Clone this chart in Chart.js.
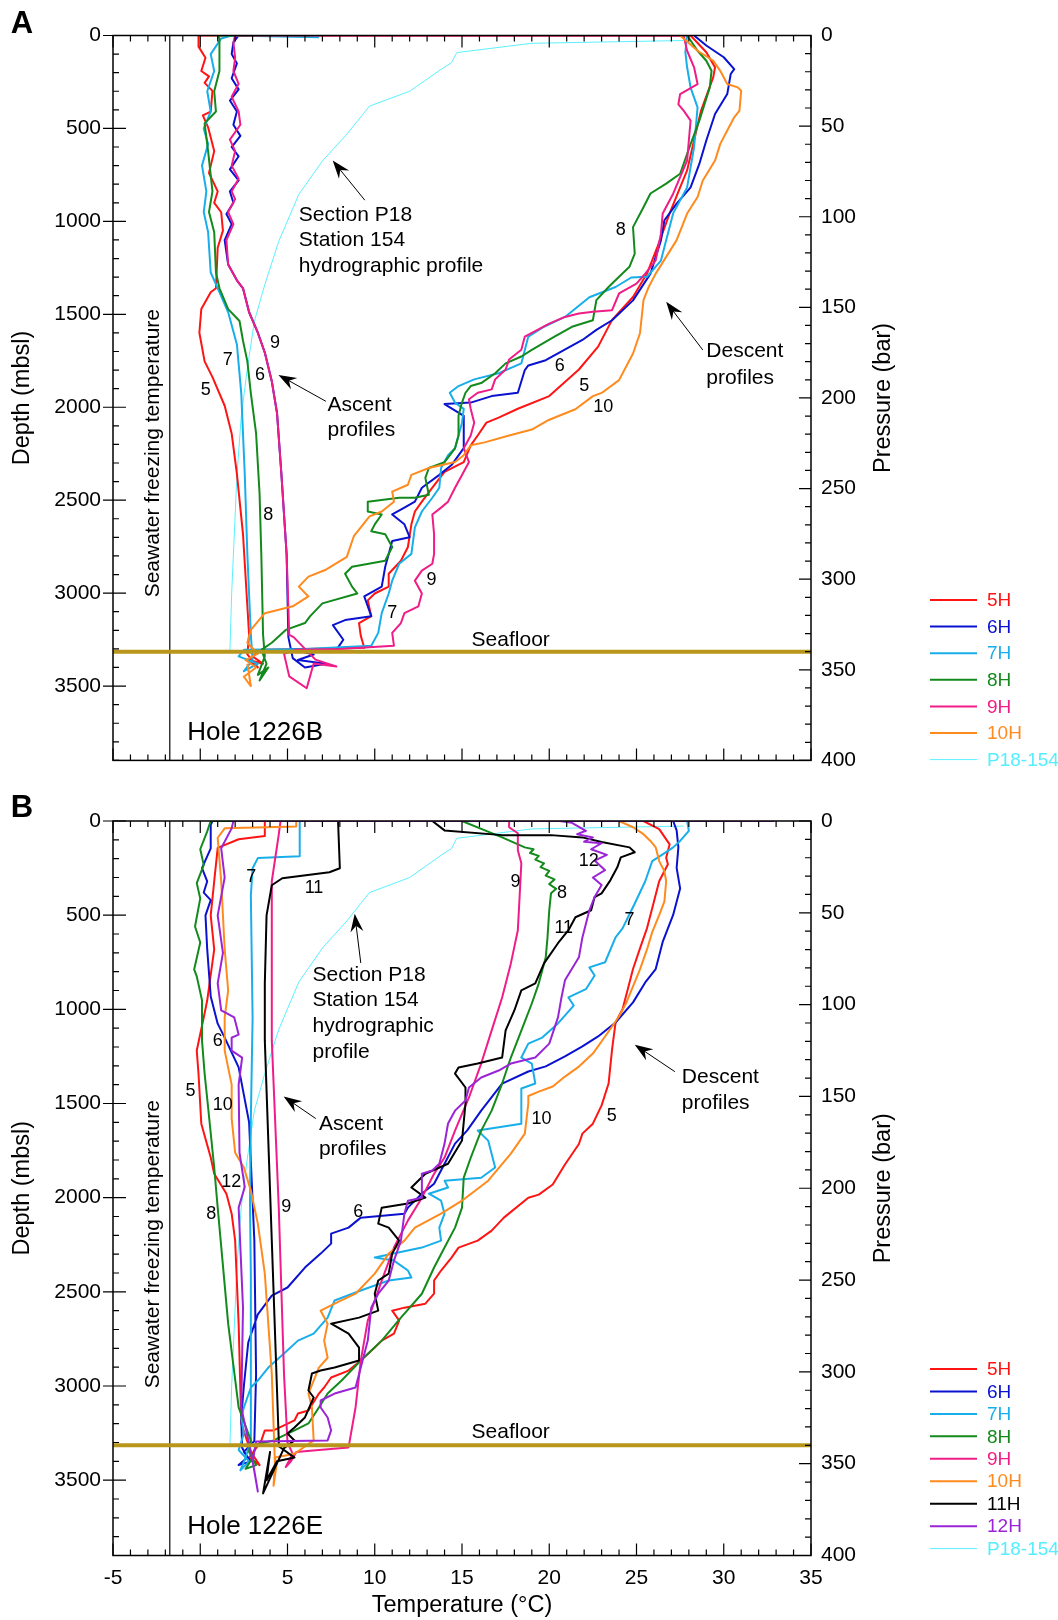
<!DOCTYPE html>
<html>
<head>
<meta charset="utf-8">
<title>Holes 1226B and 1226E temperature profiles</title>
<script src="https://cdn.jsdelivr.net/npm/chart.js@4.4.1/dist/chart.umd.min.js"></script>
<style>
  body { margin: 0; background: #fff; }
  .panel { position: absolute; left: 0; width: 1058px; }
  #panelA { top: 0; height: 785px; }
  #panelB { top: 785px; height: 835px; }
</style>
</head>
<body>
<div class="panel" id="panelA"><canvas id="chartA" width="1058" height="785"></canvas></div>
<div class="panel" id="panelB"><canvas id="chartB" width="1058" height="835"></canvas></div>
<script>
// temperature (°C), depth (mbsl) pairs, descent -> seafloor -> ascent -> deck

// ---- Hole 1226B ----
const a5H = [[28.1,0],[29.0,90],[29.5,171],[29.4,224],[28.7,404],[28.3,563],[27.9,726],[27.5,817],[26.9,957],[26.2,1137],[25.6,1281],[24.8,1407],[23.6,1530],[22.8,1674],[21.7,1797],[20.0,1940],[18.2,2008],[17.1,2056],[16.4,2083],[15.9,2152],[15.5,2205],[15.1,2295],[14.0,2348],[13.3,2433],[12.7,2508],[12.3,2561],[12.1,2630],[11.9,2752],[11.5,2826],[10.8,2896],[10.8,2965],[10.0,3002],[9.6,3039],[9.8,3124],[9.1,3161],[9.2,3230],[9.4,3294],[6.0,3300],[3.5,3305],
  [3.0,3340],[3.6,3380],[2.8,3360],[3.3,3400],[2.7,3330],
  [2.8,3225],[2.45,2683],[2.1,2359],[1.8,2141],[1.4,1992],[0.7,1838],[0.25,1753],[-0.05,1599],[0.06,1472],[0.6,1381],[0.9,1360],[1.0,1142],[1.3,1050],[1.2,951],[0.8,900],[1.0,839],[0.5,740],[0.8,622],[0.45,494],[0.15,430],[0.6,409],[0.7,298],[0.25,255],[0.5,220],[0.06,191],[0.3,120],[-0.1,60],[-0.1,16],[-0.1,0],[28.1,0]];
const a6H = [[28.3,0],[29.0,54],[30.0,117],[30.6,181],[30.4,207],[30.2,315],[29.5,422],[29.0,565],[28.6,691],[28.1,817],[27.3,905],[26.6,994],[26.4,1102],[25.8,1281],[24.8,1425],[23.6,1532],[22.7,1584],[21.9,1638],[20.5,1710],[19.8,1747],[18.8,1775],[18.6,1800],[18.2,1922],[16.7,1940],[15.5,1975],[14.0,1983],[15.1,2046],[15.1,2220],[14.4,2311],[13.7,2364],[12.7,2433],[12.3,2508],[11.7,2540],[11.0,2577],[11.7,2630],[12.0,2699],[11.0,2720],[10.8,2789],[10.6,2858],[10.4,2965],[9.4,3018],[9.8,3124],[8.3,3145],[7.6,3172],[8.2,3251],[7.8,3305],[5.2,3300],
  [6.5,3330],[5.6,3360],[7.2,3380],[6.0,3400],[5.3,3350],
  [5.05,3237],[4.95,2792],[4.65,2359],[4.4,2032],[4.1,1860],[3.7,1706],[3.3,1599],[2.8,1489],[2.45,1360],[2.1,1317],[1.6,1232],[1.4,1101],[1.8,1015],[1.5,960],[1.9,900],[1.7,839],[2.2,780],[1.7,720],[2.2,650],[1.8,600],[2.3,540],[1.9,480],[2.1,409],[1.7,350],[2.2,290],[1.8,230],[2.1,150],[1.8,100],[1.9,37],[2.2,0],[4.0,0]];
const a7H = [[27.9,0],[27.8,90],[27.9,171],[28.1,280],[28.5,387],[28.3,600],[27.9,817],[27.1,957],[26.7,1101],[26.4,1211],[25.6,1298],[24.7,1302],[23.8,1353],[22.3,1408],[20.9,1514],[19.7,1567],[18.8,1620],[18.4,1764],[17.1,1817],[15.7,1850],[14.8,1886],[14.3,1922],[14.6,1975],[15.1,2009],[15.0,2083],[14.6,2221],[14.2,2258],[13.8,2327],[13.7,2433],[13.3,2487],[12.7,2561],[12.3,2646],[12.1,2789],[11.4,2842],[11.0,2933],[10.8,3002],[10.4,3108],[10.2,3214],[9.8,3283],[6.0,3300],[2.5,3305],
  [2.2,3340],[3.3,3380],[2.5,3420],[3.0,3360],
  [2.9,3225],[2.7,2792],[2.55,2359],[2.35,1925],[2.1,1662],[1.6,1489],[1.1,1381],[0.6,1275],[0.45,1058],[0.2,950],[0.35,839],[0.1,700],[0.45,584],[0.2,500],[0.6,409],[0.4,300],[0.8,191],[0.6,100],[1.2,16],[1.8,0],[6.8,10]];
const a8H = [[27.9,0],[28.5,82],[29.0,136],[29.3,190],[29.2,279],[28.6,458],[28.1,584],[27.5,744],[26.7,797],[25.8,850],[25.4,924],[24.8,1031],[24.9,1174],[24.6,1244],[24.0,1298],[23.4,1353],[22.7,1424],[22.5,1532],[21.3,1567],[20.3,1620],[19.0,1691],[18.4,1727],[17.5,1764],[16.9,1817],[16.1,1870],[15.5,1886],[15.2,1922],[15.0,1975],[14.8,2046],[14.8,2152],[14.6,2221],[14.0,2295],[13.1,2327],[12.9,2380],[13.1,2471],[12.3,2487],[11.4,2487],[9.6,2508],[9.6,2561],[10.4,2577],[10.0,2630],[9.8,2667],[10.6,2683],[11.0,2752],[10.6,2826],[8.7,2858],[8.3,2896],[8.7,2965],[9.0,3002],[7.0,3055],[6.3,3124],[6.0,3161],[4.9,3198],[4.1,3267],[3.5,3305],
  [3.8,3380],[3.4,3470],[3.9,3400],[3.3,3440],[3.7,3340],
  [3.6,3225],[3.5,2792],[3.4,2467],[3.2,2141],[2.9,1925],[2.7,1753],[2.45,1642],[2.25,1536],[1.6,1472],[1.1,1360],[0.9,1275],[0.8,1058],[0.5,950],[0.7,839],[0.45,622],[0.25,473],[0.9,409],[0.8,300],[1.1,191],[1.1,16],[1.0,0],[6.3,0]];
const a9H = [[27.7,0],[27.9,82],[28.3,171],[28.5,261],[27.5,315],[27.4,370],[27.7,404],[28.1,458],[28.0,565],[27.9,673],[27.5,762],[27.1,851],[26.5,958],[26.4,1066],[26.1,1210],[25.5,1281],[25.0,1335],[24.0,1388],[23.6,1478],[22.5,1486],[21.7,1496],[20.9,1514],[20.0,1550],[18.6,1620],[18.4,1691],[17.7,1743],[17.5,1797],[16.9,1850],[16.7,1904],[15.9,1922],[15.4,1957],[15.5,2009],[15.7,2083],[15.5,2152],[15.1,2221],[15.4,2295],[15.0,2364],[14.6,2433],[14.2,2508],[13.8,2540],[13.3,2577],[13.4,2683],[13.4,2789],[13.3,2842],[12.7,2879],[12.3,2933],[12.7,3002],[12.5,3071],[11.7,3108],[11.5,3161],[11.0,3214],[11.1,3283],[8.0,3300],[5.5,3305],
  [4.8,3326],[5.1,3448],[6.1,3512],[6.5,3379],[7.8,3395],[6.6,3358],
  [5.35,3237],[5.1,3225],[4.95,2792],[4.65,2359],[4.4,2032],[4.1,1860],[3.7,1706],[3.3,1599],[2.8,1489],[2.45,1360],[2.1,1317],[1.6,1232],[1.5,1101],[1.9,1015],[1.6,950],[2.0,880],[1.8,839],[2.2,770],[1.8,700],[2.0,622],[1.7,560],[2.3,480],[2.2,409],[1.8,330],[2.2,260],[1.9,191],[2.0,120],[1.9,37],[2.0,0],[27.7,0]];
const a10H = [[27.5,0],[28.5,82],[29.4,136],[29.8,190],[30.2,261],[30.8,279],[31.0,297],[30.9,404],[30.6,440],[30.2,511],[29.8,583],[29.5,673],[28.8,780],[28.5,869],[27.9,958],[27.3,1101],[26.7,1191],[26.1,1281],[25.7,1353],[25.4,1424],[25.2,1602],[24.8,1711],[24.0,1854],[23.0,1923],[22.5,1940],[21.5,2011],[20.0,2067],[19.0,2120],[17.7,2152],[16.3,2189],[15.5,2205],[15.1,2258],[14.6,2295],[13.1,2327],[12.1,2364],[11.9,2417],[11.0,2454],[11.1,2508],[10.4,2561],[9.7,2587],[9.2,2646],[8.8,2694],[8.4,2805],[7.2,2874],[6.2,2911],[5.65,2965],[6.2,3018],[5.3,3071],[3.7,3108],[2.9,3198],[2.7,3267],[3.3,3326],
  [2.6,3360],[3.2,3400],[2.5,3450],[2.9,3500],[2.7,3380]];

// ---- Hole 1226E ----
const b5H = [[25.4,0],[26.3,43],[26.9,124],[26.7,195],[26.8,230],[26.3,320],[25.9,463],[25.6,570],[25.2,676],[24.8,786],[24.5,893],[24.2,1000],[23.8,1070],[23.6,1213],[23.4,1394],[23.0,1510],[22.5,1607],[21.9,1660],[21.7,1715],[20.9,1824],[20.2,1930],[19.4,1984],[18.8,2000],[17.4,2106],[16.7,2175],[15.9,2228],[14.8,2265],[14.4,2318],[13.8,2387],[13.4,2440],[13.4,2510],[12.9,2563],[11.7,2584],[11.0,2600],[11.4,2653],[11.1,2722],[10.4,2759],[10.0,2796],[9.2,2865],[8.5,2918],[7.5,2955],[7.1,3008],[6.8,3040],[6.2,3130],[5.6,3146],[5.4,3183],[4.2,3236],[3.7,3236],[3.5,3290],
  [3.2,3330],[2.8,3380],[3.4,3420],[2.9,3350],
  [2.35,3200],[2.2,2669],[2.0,2228],[1.8,2085],[1.5,1979],[0.8,1873],[0.6,1787],[0.06,1607],[-0.1,1341],[-0.2,1219],[0.2,1043],[0.4,952],[0.8,682],[0.6,501],[0.8,320],[1.0,143],[2.2,97],[3.7,80],[3.7,0],[25.4,0]];
const b6H = [[27.1,0],[27.3,50],[27.4,140],[27.3,249],[27.5,358],[27.1,499],[26.5,642],[26.1,786],[25.5,857],[24.8,963],[23.8,1070],[22.8,1144],[21.9,1197],[20.9,1250],[19.8,1303],[18.8,1330],[17.3,1394],[16.1,1538],[15.3,1643],[14.6,1713],[14.0,1820],[13.4,1926],[12.7,1979],[11.9,2053],[11.7,2085],[9.2,2106],[8.5,2159],[7.5,2191],[7.5,2244],[6.9,2297],[6.0,2371],[5.0,2477],[4.1,2520],[3.3,2620],[2.75,2769],[2.5,3000],[2.35,3166],[2.4,3328],
  [2.7,3380],[2.2,3420],[2.9,3400],[2.5,3350],
  [3.1,3292],[3.2,2936],[3.1,2228],[2.8,1600],[2.2,1308],[1.4,1150],[1.0,1076],[0.6,932],[0.4,682],[0.3,501],[0.6,420],[0.2,380],[0.4,320],[0.1,250],[0.6,145],[0.6,20],[0.7,0],[27.1,0]];
const b7H = [[27.9,0],[28.0,52],[27.5,106],[27.1,140],[26.5,177],[25.9,213],[25.5,320],[24.9,438],[24.2,570],[23.8,618],[23.2,750],[22.3,777],[22.6,820],[22.1,893],[21.1,937],[21.4,980],[20.5,1075],[19.6,1150],[18.8,1182],[18.4,1256],[19.0,1288],[19.2,1394],[18.4,1420],[18.4,1607],[15.9,1643],[16.5,1697],[16.9,1840],[16.1,1894],[14.0,1910],[14.2,1946],[13.1,1979],[13.8,2016],[14.0,2085],[13.7,2159],[13.8,2228],[12.7,2265],[10.0,2318],[11.1,2334],[11.9,2387],[12.1,2424],[10.8,2440],[9.2,2493],[7.7,2546],[7.3,2637],[6.5,2722],[5.6,2759],[4.8,2828],[3.9,2902],[3.3,2971],[2.9,3008],[2.5,3114],[2.35,3167],[2.5,3252],
  [2.2,3340],[2.8,3400],[2.3,3448],[2.6,3380],
  [2.9,3290],[2.9,2400],[2.85,2031],[2.9,1580],[3.0,1043],[2.9,395],[3.0,251],[3.3,197],[5.7,187],[5.7,0]];
const b8H = [[15.0,0],[17.3,87],[18.6,140],[19.1,150],[18.9,170],[19.4,185],[19.2,205],[19.7,225],[19.5,245],[20.0,265],[19.8,290],[20.3,310],[20.0,335],[20.4,360],[20.1,384],[20.0,474],[19.9,618],[19.8,724],[19.4,862],[19.0,969],[18.4,1113],[17.8,1256],[17.3,1394],[16.7,1538],[16.1,1644],[15.5,1788],[15.1,1894],[15.0,2053],[14.6,2159],[14.0,2265],[13.4,2371],[12.7,2510],[11.5,2637],[10.4,2759],[9.2,2865],[8.1,2971],[7.3,3040],[6.8,3114],[6.2,3199],[5.4,3236],[4.2,3289],[3.2,3310],
  [3.0,3380],[2.6,3440],[3.2,3420],[2.8,3350],
  [2.9,3289],[2.2,3114],[1.6,2669],[1.0,2053],[0.8,1840],[0.45,1520],[0.25,1341],[0.1,1165],[0.1,952],[-0.2,825],[-0.35,788],[0.0,645],[-0.3,560],[0.0,411],[-0.2,330],[0.2,233],[0.0,150],[0.4,55],[0.6,0],[4.0,0]];
const b9H = [[17.7,0],[17.7,33],[18.2,65],[18.2,155],[18.4,224],[18.3,404],[18.2,580],[17.8,756],[17.3,937],[16.7,1112],[16.1,1288],[15.4,1468],[14.6,1644],[14.0,1787],[13.4,1873],[12.7,2000],[11.9,2122],[11.1,2265],[10.4,2440],[9.6,2653],[9.2,2865],[8.9,3114],[8.5,3326],
  [6.8,3340],[5.5,3350],[5.2,3400],[4.9,3430],[5.3,3360],
  [5.0,3300],[4.8,2936],[4.5,2053],[4.1,1165],[4.1,862],[4.1,320],[4.5,71],[4.6,0],[17.7,0]];
const b10H = [[24.0,0],[24.8,33],[25.4,70],[25.8,106],[26.1,140],[26.3,213],[26.6,267],[26.7,320],[26.6,427],[26.3,500],[25.9,590],[25.6,682],[25.2,788],[24.8,878],[24.4,968],[24.0,1038],[23.2,1144],[22.5,1235],[21.7,1304],[20.9,1357],[20.2,1410],[19.4,1437],[18.8,1460],[18.8,1500],[18.6,1660],[17.8,1766],[16.5,1910],[15.0,2016],[13.8,2085],[12.3,2159],[11.7,2228],[10.8,2297],[10.0,2403],[8.9,2510],[7.7,2563],[6.9,2600],[7.3,2669],[7.1,2759],[7.3,2850],[6.8,2902],[6.5,2971],[6.2,3040],[6.4,3114],[6.5,3289],
  [5.4,3360],[4.3,3380],[4.2,3530],[4.4,3400],
  [4.3,3467],[4.1,2936],[3.7,2403],[3.3,2138],[2.9,1963],[2.5,1840],[2.0,1761],[1.8,1580],[1.8,1400],[1.4,1219],[1.4,1043],[1.6,900],[1.4,682],[1.2,320],[1.0,89],[1.4,39],[5.5,29],[5.5,0],[24.0,0]];
const b11H = [[13.3,0],[14.0,50],[17.3,75],[20.1,75],[21.9,87],[23.0,112],[24.6,140],[24.9,166],[24.1,193],[23.9,246],[23.5,315],[23.0,384],[22.6,404],[22.4,474],[21.5,511],[21.1,580],[20.5,649],[19.7,756],[19.2,862],[18.4,899],[18.0,1006],[17.5,1112],[17.3,1256],[15.9,1288],[14.8,1309],[14.6,1341],[15.2,1415],[15.2,1500],[15.0,1697],[14.2,1820],[12.9,1873],[12.1,1946],[12.9,2000],[11.9,2031],[10.4,2053],[10.2,2138],[10.8,2159],[11.4,2228],[11.0,2297],[10.8,2403],[10.2,2440],[10.0,2510],[10.2,2600],[9.1,2637],[7.5,2669],[8.5,2722],[9.1,2796],[9.1,2865],[7.7,2902],[6.9,2918],[6.4,2934],[6.2,3024],[6.5,3061],[6.0,3167],[5.4,3220],[5.0,3252],[5.4,3289],
  [4.8,3330],[3.6,3570],[4.0,3350],[3.8,3500],[4.4,3400],[5.4,3380],[4.5,3320],
  [4.5,3289],[4.1,2228],[3.7,1165],[3.7,862],[3.8,501],[4.1,341],[4.7,304],[7.4,272],[8.0,251],[7.9,7],[7.9,0],[13.3,0]];
const b12H = [[20.6,0],[21.3,10],[22.1,52],[21.6,70],[22.5,87],[22.0,110],[23.0,118],[22.4,150],[23.3,180],[22.6,210],[23.2,261],[22.5,300],[23.0,340],[22.6,404],[22.3,474],[21.9,618],[21.7,724],[20.9,846],[20.7,937],[20.5,1043],[20.0,1182],[19.2,1256],[17.8,1288],[17.1,1325],[16.1,1362],[15.4,1415],[15.2,1484],[14.6,1538],[14.2,1606],[14.0,1713],[13.7,1820],[13.3,1856],[12.7,1873],[12.7,2000],[11.9,2016],[11.7,2085],[11.5,2228],[11.1,2334],[10.8,2440],[10.2,2510],[9.8,2584],[9.6,2759],[9.2,2902],[8.9,3008],[7.7,3040],[6.9,3077],[6.9,3114],[7.3,3167],[7.5,3236],[7.3,3289],[3.2,3295],
  [3.0,3400],[3.3,3560],[3.1,3450],[2.9,3350],
  [2.35,3114],[2.45,2584],[2.2,2053],[2.55,1943],[2.25,1761],[2.2,1400],[2.4,1256],[1.8,1219],[1.8,1150],[2.2,1134],[1.95,1043],[1.2,1006],[1.0,862],[1.3,700],[1.0,501],[1.4,300],[1.2,145],[1.8,39],[1.9,0],[32.9,0]];

// Section P18 station 154 hydrographic profile (same in both panels)
const p18 = [[27.7,27],[19.0,42],[14.7,92],[14.4,146],[13.8,182],[12.0,300],[9.7,380],[8.4,531],[7.0,675],[5.65,855],[4.5,1107],[3.7,1340],[3.1,1538],[2.7,1790],[2.35,2049],[2.1,2370],[1.8,3002],[1.7,3315]];

const seafloorDepth = 3315;
const freezingTemp = -1.75;

// tick labels
const tempTicks = [-5, 0, 5, 10, 15, 20, 25, 30, 35];
const depthTicks = [0, 500, 1000, 1500, 2000, 2500, 3000, 3500];
const pressureTicks = [0, 50, 100, 150, 200, 250, 300, 350, 400];

const labelsA = ['5H', '6H', '7H', '8H', '9H', '10H'];
const seriesA = [a5H, a6H, a7H, a8H, a9H, a10H];
const labelsB = ['5H', '6H', '7H', '8H', '9H', '10H', '11H', '12H'];
const seriesB = [b5H, b6H, b7H, b8H, b9H, b10H, b11H, b12H];

const COLORS = {
  '5H': '#ff1414', '6H': '#0a12d0', '7H': '#18aeea', '8H': '#138a1c', '9H': '#f01c88',
  '10H': '#ff8a1e', '11H': '#000000', '12H': '#9a24d6', 'P18-154': '#5cf0ff'
};
const FONT = "'Liberation Sans', Arial, Helvetica, sans-serif";

// text and arrows, placed in data units (°C, mbsl)
const notesA = [
  {t: 5.65, d: 967, text: 'Section P18'}, {t: 5.65, d: 1104, text: 'Station 154'}, {t: 5.65, d: 1242, text: 'hydrographic profile'},
  {t: 7.29, d: 1991, text: 'Ascent'}, {t: 7.29, d: 2125, text: 'profiles'},
  {t: 29.0, d: 1700, text: 'Descent'}, {t: 29.0, d: 1844, text: 'profiles'},
  {t: 15.55, d: 3256, text: 'Seafloor'},
  {t: -0.75, d: 3751, text: 'Hole 1226B', size: 26}
];
const tagsA = [
  ['9', 4.29, 1655], ['7', 1.58, 1745], ['6', 3.42, 1826], ['5', 0.32, 1905], ['8', 3.9, 2578],
  ['9', 13.25, 2928], ['7', 11.0, 3108], ['8', 24.1, 1047], ['6', 20.6, 1778], ['5', 22.0, 1886], ['10', 23.1, 1998]
];
const arrowsA = [[9.43, 886, 7.59, 673], [7.2, 1968, 4.48, 1826], [28.8, 1692, 26.7, 1433]];

const notesB = [
  {t: 6.43, d: 817, text: 'Section P18'}, {t: 6.43, d: 951, text: 'Station 154'}, {t: 6.43, d: 1091, text: 'hydrographic'}, {t: 6.43, d: 1229, text: 'profile'},
  {t: 6.8, d: 1611, text: 'Ascent'}, {t: 6.8, d: 1745, text: 'profiles'},
  {t: 27.6, d: 1358, text: 'Descent'}, {t: 27.6, d: 1498, text: 'profiles'},
  {t: 15.55, d: 3247, text: 'Seafloor'},
  {t: -0.75, d: 3750, text: 'Hole 1226E', size: 26}
];
const tagsB = [
  ['7', 2.93, 295], ['11', 6.52, 355], ['9', 18.07, 322], ['8', 20.73, 383], ['12', 22.27, 213], ['11', 20.83, 570],
  ['7', 24.6, 526], ['6', 1.0, 1167], ['5', -0.56, 1432], ['10', 1.29, 1508], ['10', 19.56, 1582], ['5', 23.58, 1564],
  ['12', 1.78, 1918], ['8', 0.63, 2086], ['9', 4.93, 2051], ['6', 9.05, 2077]
];
const arrowsB = [[9.2, 754, 8.85, 493], [6.62, 1580, 4.78, 1463], [27.2, 1331, 24.9, 1188]];

function pts(arr) {
  return arr.map(p => ({x: p[0], y: p[1]}));
}

function fixedTicks(values) {
  return s => { s.ticks = values.map(v => ({value: v})); };
}

function buildDatasets(labels, series) {
  const ds = [];
  ds.push({label: 'seafloor', data: pts([[-5, seafloorDepth], [35.1, seafloorDepth]]), borderColor: '#b8961b', borderWidth: 4, order: 0});
  series.forEach((s, i) => {
    ds.push({label: labels[i], data: pts(s), borderColor: COLORS[labels[i]], borderWidth: 2, order: 100 - i, legend: true});
  });
  ds.push({label: 'P18-154', data: pts(p18), borderColor: COLORS['P18-154'], borderWidth: 1, order: 200, legend: true});
  ds.push({label: 'freezing', data: pts([[freezingTemp, 0], [freezingTemp, 3900]]), borderColor: '#333', borderWidth: 1, order: 300});
  ds.forEach(d => {
    d.showLine = true; d.pointRadius = 0; d.pointHitRadius = 0;
    d.borderJoinStyle = 'round'; d.fill = false;
  });
  return ds;
}

function drawArrow(ctx, x1, y1, x2, y2) {
  const a = Math.atan2(y2 - y1, x2 - x1), c = Math.cos(a), s = Math.sin(a);
  ctx.lineWidth = 1;
  ctx.beginPath();
  ctx.moveTo(x1, y1);
  ctx.lineTo(x2 - 10 * c, y2 - 10 * s);
  ctx.stroke();
  ctx.beginPath();
  ctx.moveTo(x2, y2);
  ctx.lineTo(x2 - 18 * c + 6.5 * s, y2 - 18 * s - 6.5 * c);
  ctx.lineTo(x2 - 12 * c, y2 - 12 * s);
  ctx.lineTo(x2 - 18 * c - 6.5 * s, y2 - 18 * s + 6.5 * c);
  ctx.closePath();
  ctx.fill();
}

const decor = {
  id: 'decor',
  afterDatasetsDraw(chart, args, o) {
    const {ctx, chartArea: a, scales} = chart;
    const sx = scales.x, sy = scales.y, sp = scales.y2;
    ctx.save();
    ctx.strokeStyle = '#000';
    ctx.fillStyle = '#000';

    // frame and inward ticks
    ctx.lineWidth = 1.5;
    ctx.strokeRect(a.left, a.top, a.right - a.left, a.bottom - a.top);
    ctx.lineWidth = 1.2;
    ctx.beginPath();
    for (let t = -5; t <= 35; t++) {
      const px = sx.getPixelForValue(t), len = t % 5 === 0 ? 12 : 6;
      ctx.moveTo(px, a.top); ctx.lineTo(px, a.top + len);
      ctx.moveTo(px, a.bottom); ctx.lineTo(px, a.bottom - len);
    }
    for (let d = 0; d <= 3900; d += 100) {
      const py = sy.getPixelForValue(d);
      if (d % 500 === 0) { ctx.moveTo(a.left - 10, py); ctx.lineTo(a.left + 13, py); }
      else { ctx.moveTo(a.left, py); ctx.lineTo(a.left + 6, py); }
    }
    for (let b = 0; b <= 400; b += 10) {
      const py = sp.getPixelForValue(b), len = b % 50 === 0 ? 12 : 6;
      ctx.moveTo(a.right, py); ctx.lineTo(a.right - len, py);
    }
    ctx.stroke();

    // notes, curve tags, arrows
    ctx.textBaseline = 'middle';
    ctx.textAlign = 'left';
    o.notes.forEach(n => {
      ctx.font = (n.size || 21) + 'px ' + FONT;
      ctx.fillText(n.text, sx.getPixelForValue(n.t), sy.getPixelForValue(n.d));
    });
    ctx.textAlign = 'center';
    ctx.font = '18px ' + FONT;
    o.tags.forEach(g => ctx.fillText(g[0], sx.getPixelForValue(g[1]), sy.getPixelForValue(g[2])));
    o.arrows.forEach(r => drawArrow(ctx, sx.getPixelForValue(r[0]), sy.getPixelForValue(r[1]),
      sx.getPixelForValue(r[2]), sy.getPixelForValue(r[3])));

    // freezing temperature label, rotated
    ctx.save();
    ctx.translate(sx.getPixelForValue(-2.71), sy.getPixelForValue(2247));
    ctx.rotate(-Math.PI / 2);
    ctx.font = '21px ' + FONT;
    ctx.fillText('Seawater freezing temperature', 0, 0);
    ctx.restore();

    // right axis title reads bottom to top
    ctx.save();
    ctx.translate(884, (a.top + a.bottom) / 2);
    ctx.rotate(-Math.PI / 2);
    ctx.font = '23.5px ' + FONT;
    ctx.fillText('Pressure (bar)', 0, 0);
    ctx.restore();

    // panel letter
    ctx.font = 'bold 31px ' + FONT;
    ctx.fillText(o.letter, 22, o.letterY);

    // legend
    ctx.textAlign = 'left';
    ctx.font = '19px ' + FONT;
    chart.data.datasets.filter(d => d.legend).forEach((d, i) => {
      const y = o.legendTop + i * o.legendStep;
      ctx.strokeStyle = d.borderColor;
      ctx.lineWidth = d.borderWidth;
      ctx.beginPath(); ctx.moveTo(930, y); ctx.lineTo(977, y); ctx.stroke();
      ctx.fillStyle = d.label === 'P18-154' ? '#55eeff' : d.borderColor;
      ctx.fillText(d.label, 987, y + 1);
    });
    ctx.restore();
  }
};

function makeChart(id, labels, series, cfg) {
  const tickFont = {family: FONT, size: 21};
  return new Chart(document.getElementById(id), {
    type: 'scatter',
    data: {datasets: buildDatasets(labels, series)},
    plugins: [decor],
    options: {
      responsive: false,
      animation: false,
      devicePixelRatio: 1,
      events: [],
      layout: {padding: {top: cfg.top, left: 0, right: 0, bottom: 0}},
      plugins: {
        legend: {display: false},
        tooltip: {enabled: false},
        decor: cfg.decor
      },
      scales: {
        x: {
          type: 'linear', position: 'bottom', min: -5, max: 35,
          grid: {display: false, drawTicks: false},
          border: {display: false},
          afterBuildTicks: fixedTicks(tempTicks),
          ticks: {display: cfg.showX, padding: 10, color: '#000', font: tickFont, callback: v => String(v)},
          title: {display: cfg.showX, text: 'Temperature (°C)', color: '#000', padding: {top: 0, bottom: 0}, font: {family: FONT, size: 23.5}},
          afterFit: s => { s.height = cfg.xHeight; }
        },
        y: {
          type: 'linear', position: 'left', min: 0, max: 3900, reverse: true,
          grid: {display: false, drawTicks: false},
          border: {display: false},
          afterBuildTicks: fixedTicks(depthTicks),
          ticks: {padding: 12, color: '#000', font: tickFont, callback: v => String(v)},
          title: {display: true, text: 'Depth (mbsl)', color: '#000', padding: {top: 8, bottom: 0}, font: {family: FONT, size: 23.5}},
          afterFit: s => { s.width = 113; }
        },
        y2: {
          type: 'linear', position: 'right', min: 0, max: 400, reverse: true,
          grid: {display: false, drawTicks: false},
          border: {display: false},
          afterBuildTicks: fixedTicks(pressureTicks),
          ticks: {padding: 10, color: '#000', font: tickFont, callback: v => String(v)},
          afterFit: s => { s.width = 247; }
        }
      }
    }
  });
}

makeChart('chartA', labelsA, seriesA, {
  top: 35.5, xHeight: 15.5, showX: false,
  decor: {notes: notesA, tags: tagsA, arrows: arrowsA, letter: 'A', letterY: 24, legendTop: 600, legendStep: 26.6}
});
makeChart('chartB', labelsB, seriesB, {
  top: 36, xHeight: 64.5, showX: true,
  decor: {notes: notesB, tags: tagsB, arrows: arrowsB, letter: 'B', letterY: 23, legendTop: 584, legendStep: 22.45}
});
</script>
</body>
</html>
